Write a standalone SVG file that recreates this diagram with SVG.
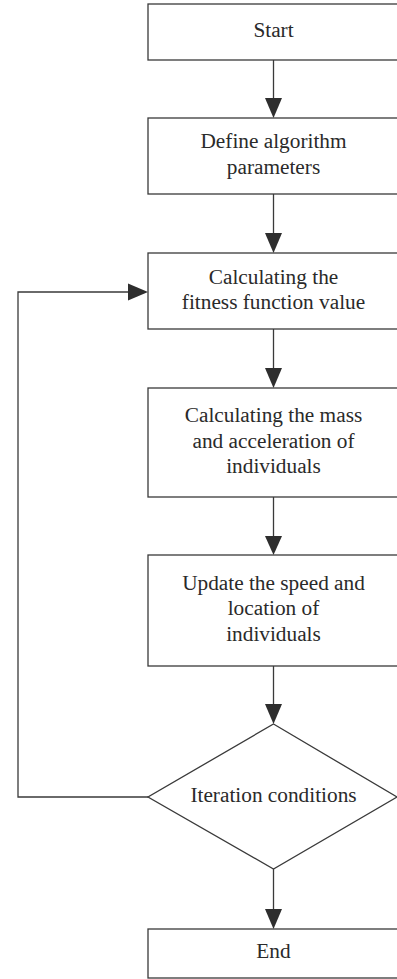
<svg xmlns="http://www.w3.org/2000/svg" width="397" height="979" viewBox="0 0 397 979">
<style>
.box{fill:#fff;stroke:#3a3a3a;stroke-width:1.3}
.ln{fill:none;stroke:#3a3a3a;stroke-width:1.3}
.t{font-family:'Liberation Serif','Times New Roman','DejaVu Serif',serif;font-size:21.3px;fill:#2a2a2a;text-anchor:middle}
.ah{fill:#2e2e2e}
</style>
<rect width="397" height="979" fill="#fff"/>
<g id="connectors">
<line class="ln" x1="273.5" y1="60" x2="273.5" y2="100"/>
<polygon class="ah" points="265,98 282,98 273.5,118"/>
<line class="ln" x1="273.5" y1="194" x2="273.5" y2="235"/>
<polygon class="ah" points="265,233 282,233 273.5,253"/>
<line class="ln" x1="273.5" y1="329" x2="273.5" y2="370"/>
<polygon class="ah" points="265,368 282,368 273.5,388"/>
<line class="ln" x1="273.5" y1="497" x2="273.5" y2="538"/>
<polygon class="ah" points="265,536 282,536 273.5,555"/>
<line class="ln" x1="273.5" y1="666" x2="273.5" y2="706"/>
<polygon class="ah" points="265,704 282,704 273.5,724"/>
<line class="ln" x1="273.5" y1="869" x2="273.5" y2="911"/>
<polygon class="ah" points="265,909 282,909 273.5,929"/>
<polyline class="ln" points="148,797 18,797 18,292 130,292"/>
<polygon class="ah" points="128,283.5 128,300.5 148,292"/>
</g>
<g id="start">
<rect class="box" x="148" y="4" width="252" height="56"/>
<text class="t" x="273.5" y="37">Start</text>
</g>
<g id="define">
<rect class="box" x="148" y="118" width="252" height="76"/>
<text class="t" x="273.5" y="148">Define algorithm</text>
<text class="t" x="273.5" y="174">parameters</text>
</g>
<g id="fitness">
<rect class="box" x="148" y="253" width="252" height="76"/>
<text class="t" x="273.5" y="284">Calculating the</text>
<text class="t" x="273.5" y="309">fitness function value</text>
</g>
<g id="mass">
<rect class="box" x="148" y="388" width="252" height="109"/>
<text class="t" x="273.5" y="422">Calculating the mass</text>
<text class="t" x="273.5" y="448">and acceleration of</text>
<text class="t" x="273.5" y="473">individuals</text>
</g>
<g id="update">
<rect class="box" x="148" y="555" width="252" height="111"/>
<text class="t" x="273.5" y="590">Update the speed and</text>
<text class="t" x="273.5" y="615">location of</text>
<text class="t" x="273.5" y="641">individuals</text>
</g>
<g id="iteration">
<polygon class="box" points="273.5,724 397,797 273.5,869 148,797"/>
<text class="t" x="273.5" y="802">Iteration conditions</text>
</g>
<g id="end">
<rect class="box" x="148" y="929" width="252" height="49"/>
<text class="t" x="273.5" y="958">End</text>
</g>
</svg>
